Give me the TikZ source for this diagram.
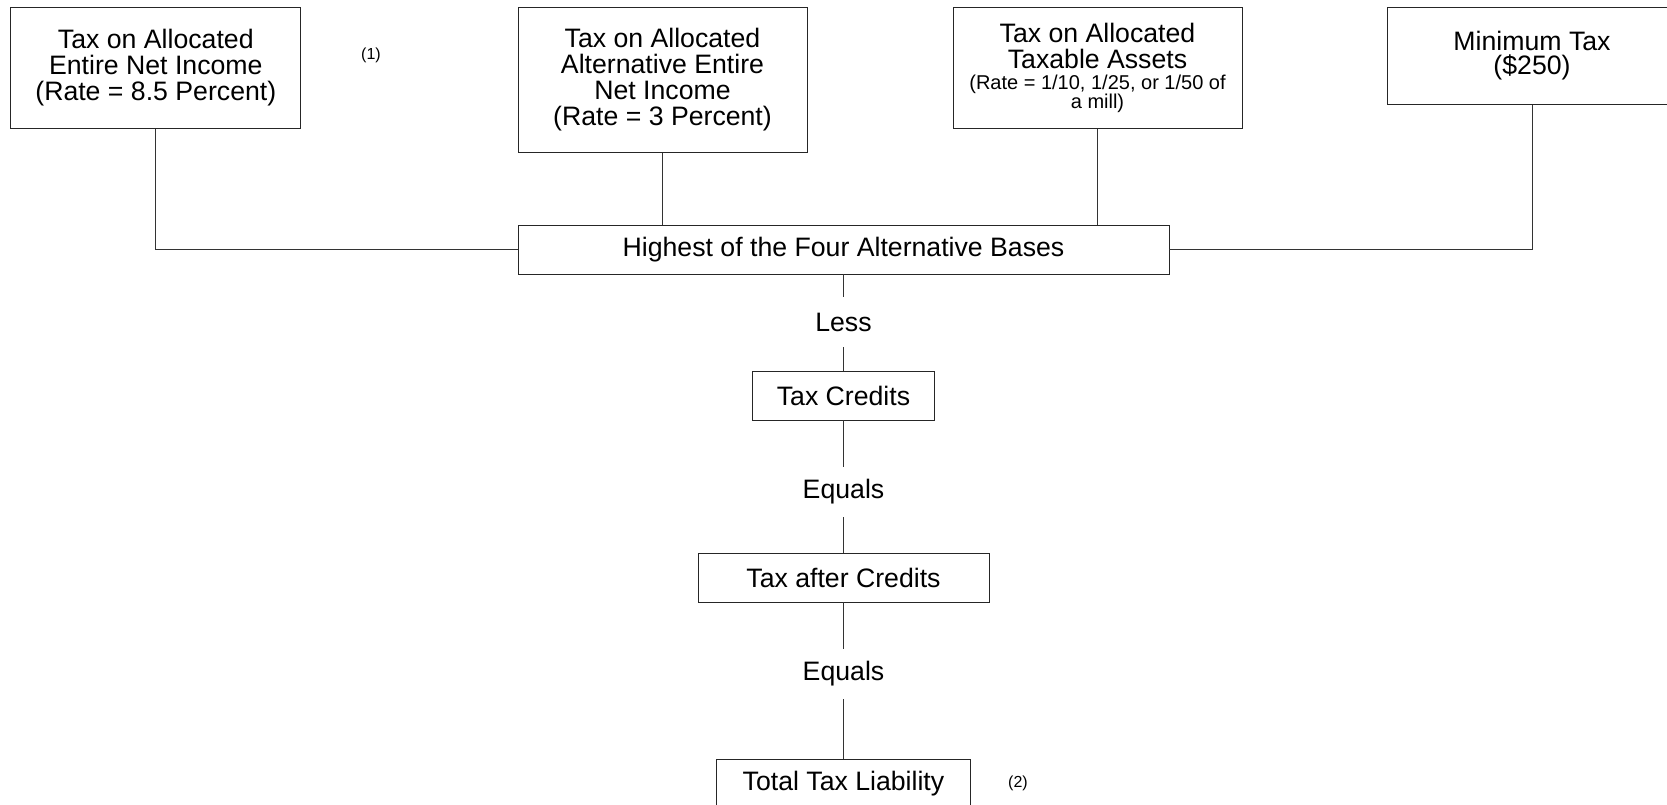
\documentclass[tikz,border=0pt]{standalone}
\usepackage{fontspec}
\setmainfont{Liberation Sans}
\newcommand{\mainsz}{\fontsize{20}{19.5}\selectfont}
\newcommand{\smallsz}{\fontsize{15}{15}\selectfont}
\newcommand{\notesz}{\fontsize{12}{12}\selectfont}
\begin{document}
\begin{tikzpicture}[x=0.75pt,y=-0.75pt,
  line width=0.6pt,
  box/.style={draw=black!85, inner sep=0pt, align=center, font=\mainsz},
  lbl/.style={inner sep=0pt, minimum height=37.5pt, font=\mainsz},
  note/.style={inner sep=0pt, font=\notesz},
  link/.style={draw=black!80}]
\useasboundingbox (0,0) rectangle (1667,805);
\node[box, minimum width=217.5pt, minimum height=90.75pt] (b1) at (155.8,68)
  {Tax on Allocated\\Entire Net Income\\(Rate = 8.5 Percent)};
\node[box, minimum width=216.75pt, minimum height=108.75pt] (b2) at (662.5,79.7)
  {Tax on Allocated\\Alternative Entire\\Net Income\\(Rate = 3 Percent)};
\node[box, minimum width=216.75pt, minimum height=90.75pt] (b3) at (1097.5,68)
  {Tax on Allocated\\Taxable Assets\\[-4pt]\smallsz (Rate = 1/10, 1/25, or 1/50 of\\[-4.8pt]\smallsz a mill)};
\node[box, minimum width=217.5pt, minimum height=72.75pt] (b4) at (1532,55.7)
  {Minimum Tax\\[-1.5pt](\$250)};
\node[note] (n1) at (371,55) {(1)};
\node[box, minimum width=488.25pt, minimum height=36.75pt] (hi) at (843.5,249.5)
  {Highest of the Four Alternative Bases};
\node[lbl] (less) at (843.5,322) {Less};
\node[box, minimum width=136pt, minimum height=36.75pt] (tc) at (843.5,395.5)
  {Tax Credits};
\node[lbl] (eq1) at (843.5,492) {Equals};
\node[box, minimum width=218.25pt, minimum height=36.75pt] (tac) at (843.5,577.5)
  {Tax after Credits};
\node[lbl] (eq2) at (843.5,674) {Equals};
\node[box, minimum width=190.5pt, minimum height=36.75pt] (ttl) at (843.5,783.5)
  {Total Tax Liability};
\node[note] (n2) at (1018,783.5) {(2)};
\draw[link] (b1.south) |- (hi.west);
\draw[link] (b4.south) |- (hi.east);
\draw[link] (b2.south) -- (b2.south |- hi.north);
\draw[link] (b3.south) -- (b3.south |- hi.north);
\draw[link] (hi) -- (less);
\draw[link] (less) -- (tc);
\draw[link] (tc) -- (eq1);
\draw[link] (eq1) -- (tac);
\draw[link] (tac) -- (eq2);
\draw[link] (eq2) -- (ttl);
\end{tikzpicture}
\end{document}
